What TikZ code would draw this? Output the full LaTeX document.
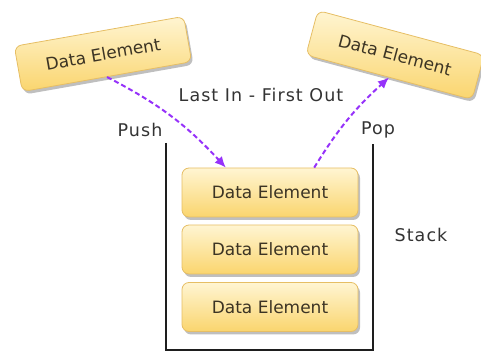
\documentclass[tikz,border=0pt]{standalone}
\usepackage{fontspec}
\setmainfont{DejaVu Sans}
\newfontfamily\lblfont[LetterSpace=6]{DejaVu Sans}
\usetikzlibrary{shadows,arrows.meta,calc}
\definecolor{arrowpurple}{RGB}{150,50,250}
\definecolor{boxborder}{RGB}{230,190,100}
\definecolor{boxtop}{RGB}{255,245,210}
\definecolor{boxbottom}{RGB}{250,213,110}
\definecolor{boxtext}{RGB}{60,52,36}
\definecolor{lbltext}{RGB}{51,51,51}
\definecolor{wallcol}{RGB}{30,30,30}
\tikzset{
  dataelem/.style={draw=boxborder, line width=0.8pt, rounded corners=7pt,
    top color=boxtop, bottom color=boxbottom,
    minimum width=176pt, minimum height=49pt, inner sep=0pt,
    font=\fontsize{17}{20}\selectfont, text=boxtext,
    drop shadow={shadow xshift=2pt, shadow yshift=-3pt, opacity=0.25, fill=black}},
  smallelem/.style={dataelem, minimum width=172pt, minimum height=46pt},
  lbl/.style={font=\lblfont\fontsize{17.5}{20}\selectfont, text=lbltext, inner sep=0pt},
  flow/.style={draw=arrowpurple, line width=2pt, dash pattern=on 5pt off 3pt,
    -{Latex[length=11pt,width=10pt]}},
  wall/.style={draw=wallcol, line width=1.2pt}
}
\begin{document}
\begin{tikzpicture}[x=1pt,y=1pt]
\useasboundingbox (0,0) rectangle (481,352);
% stack container
\draw[wall] (166,209) -- (166,2) -- (373,2) -- (373,208);
% stack elements
\node[dataelem] (s1) at (270,159.5) {Data Element};
\node[dataelem] (s2) at (270,102.5) {Data Element};
\node[dataelem] (s3) at (270,45) {Data Element};
% moving elements
\node[smallelem, rotate=10] (tl) at (103,298) {Data Element};
\node[smallelem, rotate=-15] (tr) at (395,297) {Data Element};
% labels
\node[lbl] (lifo) at (261,257) {Last In - First Out};
\node[lbl] (push) at (140,222) {Push};
\node[lbl] (pop) at (378,222) {Pop};
\node[lbl] (stack) at (421,117) {Stack};
% arrows
\draw[flow] (tl.south) to[bend left=10] ($(s1.north)!0.5!(s1.north west)$);
\draw[flow] ($(s1.north)!0.5!(s1.north east)$) to[bend left=8] (tr.south);
\end{tikzpicture}
\end{document}
